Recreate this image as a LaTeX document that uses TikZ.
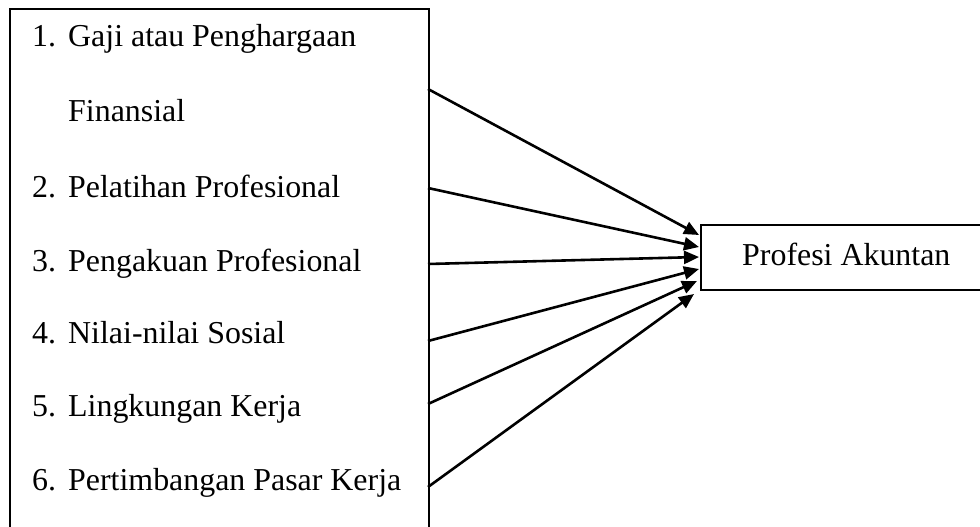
\documentclass[tikz,border=0pt]{standalone}
\usepackage{fontspec}
\setmainfont{Liberation Serif}
\usetikzlibrary{arrows.meta}
\begin{document}
\begin{tikzpicture}[x=1pt,y=-1pt,
  boxstyle/.style={draw=black,line width=2.2pt,inner sep=0pt,anchor=north west},
  itemtext/.style={anchor=base west,inner sep=0pt,font=\fontsize{31.9}{36}\selectfont},
  conn/.style={line width=2.6pt,-{Triangle[length=15pt,width=13pt]}}]
\useasboundingbox (0,0) rectangle (980,527);
\clip (0,0) rectangle (980,527);
\fill[white] (0,0) rectangle (980,527);
% left box (bottom runs past the picture edge)
\node[boxstyle,minimum width=419pt,minimum height=560pt] (left) at (9,8) {};
% right box (right side runs past the picture edge)
\node[boxstyle,minimum width=300pt,minimum height=65pt] (right) at (700,224) {};
% texts
\node[itemtext] (n1) at (32,47) {1.};
\node[itemtext] (l1) at (68,47) {Gaji atau Penghargaan};
\node[itemtext] (l1b) at (68,121.5) {Finansial};
\node[itemtext] (n2) at (32,197) {2.};
\node[itemtext] (l2) at (68,197) {Pelatihan Profesional};
\node[itemtext] (n3) at (32,271) {3.};
\node[itemtext] (l3) at (68,271) {Pengakuan Profesional};
\node[itemtext] (n4) at (32,343) {4.};
\node[itemtext] (l4) at (68,343) {Nilai-nilai Sosial};
\node[itemtext] (n5) at (32,416.5) {5.};
\node[itemtext] (l5) at (68,416.5) {Lingkungan Kerja};
\node[itemtext] (n6) at (32,490) {6.};
\node[itemtext] (l6) at (68,490) {Pertimbangan Pasar Kerja};
\node[itemtext] (rt) at (742,265) {Profesi Akuntan};
% connector ends
\coordinate (s1) at (428,89);
\coordinate (s2) at (428,188);
\coordinate (s3) at (428,264);
\coordinate (s4) at (428,341);
\coordinate (s5) at (428,404);
\coordinate (s6) at (428,487);
\coordinate (t1) at (699,235);
\coordinate (t2) at (699,247);
\coordinate (t3) at (699,257);
\coordinate (t4) at (699,269);
\coordinate (t5) at (697,281);
\coordinate (t6) at (694,294);
\foreach \i in {1,...,6}{\draw[conn] (s\i) -- (t\i);}
\end{tikzpicture}
\end{document}
